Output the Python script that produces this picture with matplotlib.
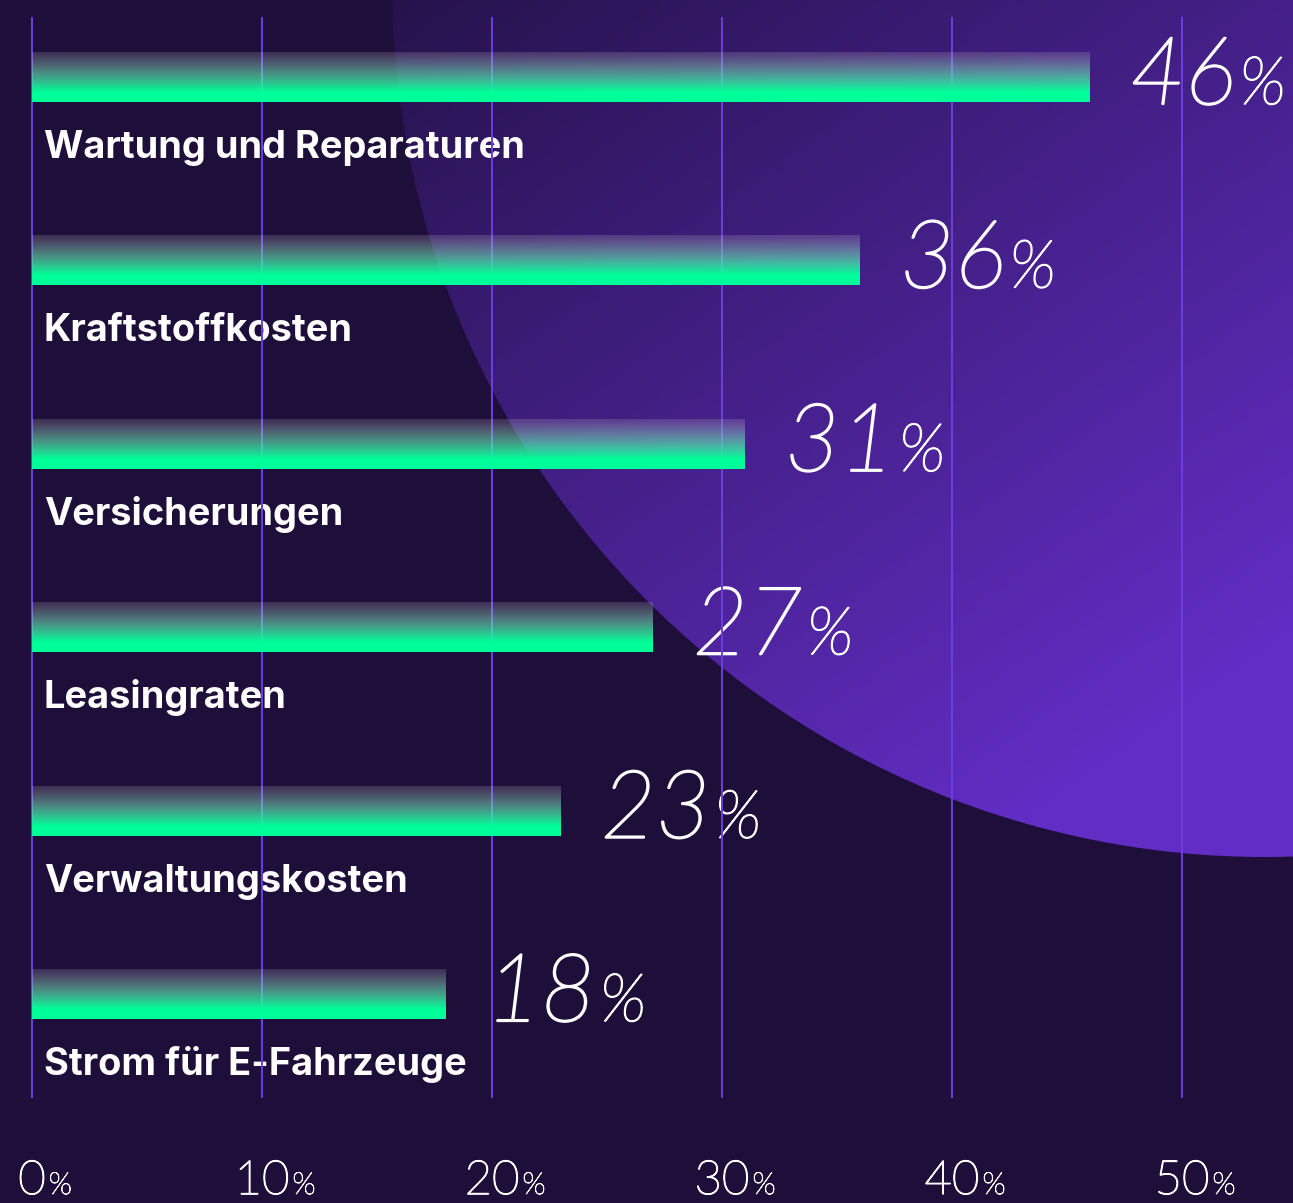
import matplotlib
matplotlib.use("Agg")
import matplotlib.pyplot as plt
import matplotlib.patches as patches
import matplotlib.patheffects as pe
import numpy as np

# data
categories = ["Wartung und Reparaturen", "Kraftstoffkosten", "Versicherungen",
              "Leasingraten", "Verwaltungskosten", "Strom für E-Fahrzeuge"]
values = [46, 36, 31, 27, 23, 18]
ticks = [0, 10, 20, 30, 40, 50]

W, H = 1293, 1203
BG = "#1e0e3a"
GREEN = np.array([0.0, 1.0, 0.6])
GRID = "#6b3fe0"

fig = plt.figure(figsize=(W / 100, H / 100), dpi=100)
fig.patch.set_facecolor(BG)

# --- background axes in pixel units: big gradient circle ---
bg = fig.add_axes([0, 0, 1, 1])
bg.set_xlim(0, W)
bg.set_ylim(H, 0)
bg.axis("off")
bg.set_facecolor(BG)

gx, gy = np.meshgrid(np.linspace(0, 1, 200), np.linspace(0, 1, 200))
t = np.clip((gx * 0.55 + gy * 0.75) / 1.1, 0, 1)
c0 = np.array([0x26, 0x13, 0x4c]) / 255
c1 = np.array([0x62, 0x2d, 0xc4]) / 255
grad = c0 + (c1 - c0) * t[..., None]
im = bg.imshow(grad, extent=(392, W, 860, 0), zorder=1, aspect="auto")
circ = patches.Circle((1265, -16), 873, transform=bg.transData, facecolor="none", edgecolor="none")
bg.add_patch(circ)
im.set_clip_path(circ)

# --- main chart axes ---
ax = fig.add_axes([0, 0, 1, 1])
ax.patch.set_alpha(0)
px = 23.0  # pixels per percent
x0 = 32
ax.set_xlim(-x0 / px, (W - x0) / px)
row = 183.4
ax.set_ylim((H - 77) / row, -77 / row)
ax.axis("off")
bar_h = 50 / row

# gridlines
for tk in ticks:
    ax.plot([tk, tk], [(18 - 77) / row, (1097 - 77) / row], color=GRID, lw=1.4, zorder=4)

# gradient for bars (top: faint white, bottom: solid green)
n = 100
s = np.linspace(0, 1, n)
u = np.clip(s / 0.8, 0, 1)
col = np.ones((n, 1, 4))
col[:, 0, :3] = (1 - u[:, None]) * np.array([1, 1, 1]) * 0.85 + u[:, None] * GREEN
col[:, 0, 3] = 0.17 + 0.83 * u ** 1.1


def thin(lw):
    # Lato light is a hairline here, so thicken it a little
    return dict(color="white", family="Lato", fontweight="light",
                path_effects=[pe.withStroke(linewidth=lw, foreground="white")])


for i, (cat, v) in enumerate(zip(categories, values)):
    top = i - bar_h / 2
    bot = i + bar_h / 2
    ax.imshow(col, extent=(0, v, bot, top), aspect="auto", zorder=5, interpolation="bilinear")
    ax.text(12 / px, bot + 56 / row, cat, color="white", fontsize=27.3,
            fontweight="bold", family="Inter", va="baseline", ha="left", zorder=3)
    tx = ax.text(v + 40 / px, bot + 2 / row, str(v), fontsize=68, fontstyle="italic",
                 va="baseline", ha="left", zorder=3, **thin(1.6))
    fig.canvas.draw()
    bb = tx.get_window_extent()
    xe = ax.transData.inverted().transform((bb.x1, bb.y0))[0]
    ax.text(xe + 4 / px, bot + 2 / row, "%", fontsize=48, fontstyle="italic",
            va="baseline", ha="left", zorder=3, **thin(1.1))

# x tick labels
ybase = (1194 - 77) / row
for tk in ticks:
    num = ax.text(tk, ybase, str(tk), fontsize=34, va="baseline", ha="center", zorder=3, **thin(1.0))
    fig.canvas.draw()
    bb = num.get_window_extent()
    xe = ax.transData.inverted().transform((bb.x1, bb.y0))[0]
    ax.text(xe + 3 / px, ybase, "%", fontsize=22, va="baseline", ha="left", zorder=3, **thin(0.6))

fig.savefig("out.png", dpi=100, facecolor=BG)
